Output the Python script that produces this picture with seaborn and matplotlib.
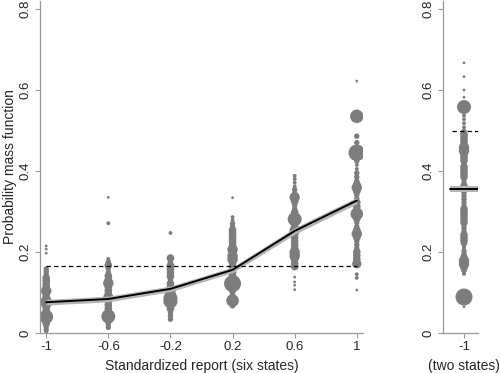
import numpy as np
import pandas as pd
import matplotlib
matplotlib.use("Agg")
import matplotlib.pyplot as plt
import seaborn as sns

# ---------------- data ----------------
six_states = [-1, -0.6, -0.2, 0.2, 0.6, 1]
six_labels = ["-1", "-0.6", "-0.2", "0.2", "0.6", "1"]

y_m10 = [0.215, 0.207, 0.197, 0.158, 0.151, 0.144, 0.136, 0.128, 0.120, 0.112, 0.104, 0.096,
         0.088, 0.080, 0.072, 0.064, 0.056, 0.048, 0.040, 0.032, 0.024, 0.016, 0.008, 0.003]
w_m10 = [1, 1, 1, 4, 4, 4, 8, 8, 8, 8, 15, 8, 8, 15, 15, 8, 8, 8, 27, 8, 8, 4, 4, 2]

y_m06 = [0.335, 0.271, 0.183, 0.175, 0.167, 0.159, 0.150, 0.141, 0.132, 0.123, 0.114, 0.105,
         0.096, 0.087, 0.078, 0.069, 0.060, 0.051, 0.041, 0.031, 0.022, 0.014]
w_m06 = [1, 2, 2, 4, 8, 4, 4, 8, 8, 15, 8, 8, 8, 15, 8, 8, 8, 8, 27, 8, 4, 4]

y_m02 = [0.247, 0.185, 0.176, 0.167, 0.158, 0.149, 0.140, 0.131, 0.122, 0.113, 0.104, 0.095,
         0.086, 0.078, 0.069, 0.060, 0.051, 0.043, 0.034]
w_m02 = [2, 8, 4, 8, 8, 8, 8, 4, 8, 8, 15, 15, 27, 27, 8, 8, 4, 4, 4]

y_p02 = [0.334, 0.286, 0.278, 0.270, 0.262, 0.254, 0.246, 0.238, 0.230, 0.222, 0.214, 0.206,
         0.198, 0.190, 0.182, 0.174, 0.166, 0.158, 0.150, 0.141, 0.122, 0.106, 0.095, 0.080, 0.067]
w_p02 = [1, 2, 2, 4, 4, 8, 8, 8, 8, 8, 8, 15, 8, 15, 15, 8, 8, 8, 8, 8, 40, 8, 4, 22, 4]

y_p06 = [0.388, 0.380, 0.371, 0.362, 0.354, 0.345, 0.335, 0.325, 0.316, 0.307, 0.298, 0.289,
         0.281, 0.271, 0.262, 0.253, 0.244, 0.235, 0.226, 0.217, 0.208, 0.199, 0.190, 0.181,
         0.172, 0.164, 0.138, 0.126, 0.118, 0.107]
w_p06 = [2, 2, 2, 2, 4, 4, 15, 8, 4, 4, 8, 8, 27, 8, 8, 15, 8, 8, 8, 8, 8, 15, 15, 8, 8, 8,
         1, 1, 1, 1]

y_p10 = [0.622, 0.535, 0.486, 0.470, 0.445, 0.425, 0.415, 0.405, 0.395, 0.385, 0.375, 0.367,
         0.359, 0.350, 0.341, 0.332, 0.322, 0.312, 0.303, 0.294, 0.283, 0.273, 0.263, 0.254,
         0.245, 0.236, 0.227, 0.218, 0.209, 0.200, 0.191, 0.182, 0.171, 0.145, 0.136, 0.106]
w_p10 = [1, 25, 4, 4, 38, 4, 2, 2, 4, 4, 4, 8, 15, 8, 4, 4, 8, 8, 8, 22, 8, 4, 4, 8, 15, 8,
         4, 4, 4, 8, 8, 8, 12, 2, 2, 1]

fit_six = [0.076, 0.084, 0.109, 0.156, 0.252, 0.327]
fit_six_lo = [0.069, 0.077, 0.102, 0.149, 0.244, 0.319]
fit_six_hi = [0.083, 0.091, 0.116, 0.163, 0.260, 0.335]
uniform_six = 1 / 6

two_state = [-1]
two_labels = ["-1"]
y_two = [0.667, 0.633, 0.600, 0.582, 0.558, 0.537, 0.528, 0.518, 0.508, 0.498, 0.490, 0.482,
         0.474, 0.466, 0.458, 0.450, 0.442, 0.434, 0.426, 0.418, 0.410, 0.402, 0.394, 0.386,
         0.378, 0.370, 0.362, 0.354, 0.346, 0.338, 0.330, 0.322, 0.314, 0.306, 0.298, 0.290,
         0.282, 0.274, 0.266, 0.258, 0.250, 0.242, 0.234, 0.226, 0.218, 0.210, 0.202, 0.194,
         0.186, 0.178, 0.170, 0.162, 0.154, 0.146, 0.089, 0.074, 0.065]
w_two = [1, 1, 1, 1, 27, 2, 2, 2, 2, 4, 8, 8, 8, 8, 15, 15, 8, 8, 8, 4, 8, 8, 8, 8, 4, 4, 8,
         8, 4, 4, 4, 4, 4, 8, 8, 8, 8, 8, 4, 4, 4, 8, 8, 8, 4, 2, 4, 4, 8, 15, 15, 8, 4, 2,
         40, 2, 1]
fit_two = 0.355
fit_two_halfwidth = 0.008
uniform_two = 0.5
yticks = [0, 0.2, 0.4, 0.6, 0.8]
ytick_labels = ["0", "0.2", "0.4", "0.6", "0.8"]

# ---------------- frames ----------------
cols = [y_m10, y_m06, y_m02, y_p02, y_p06, y_p10]
wcols = [w_m10, w_m06, w_m02, w_p02, w_p06, w_p10]
df_six = pd.concat([pd.DataFrame({"x": xv, "y": yv, "w": wv})
                    for xv, yv, wv in zip(six_states, cols, wcols)], ignore_index=True)
df_two = pd.DataFrame({"x": two_state[0], "y": y_two, "w": w_two})
df_fit = pd.DataFrame({"x": six_states, "fit": fit_six, "lo": fit_six_lo, "hi": fit_six_hi})

# ---------------- style ----------------
sns.set_style("white")
plt.rcParams["font.family"] = ["Liberation Sans", "DejaVu Sans"]
FS = 9.5
PT = "#7d7d7d"
AX = "#999999"

fig = plt.figure(figsize=(5, 3.73), dpi=100)
H = 373.0
W = 500.0
bot = 1 - 333 / H
top_px = 333 - 0.8 * 405 - 8   # small headroom above the 0.8 tick
ax_h = (333 - top_px) / H
ax1 = fig.add_axes([40 / W, bot, 323 / W, ax_h])
ax2 = fig.add_axes([443 / W, bot, 35 / W, ax_h])
ytop = (333 - top_px) / 405

size_kw = dict(size="w", sizes=(4, 150), size_norm=(1, 40), legend=False,
               color=PT, linewidth=0, alpha=1)

sns.scatterplot(data=df_six, x="x", y="y", ax=ax1, zorder=2, **size_kw)
ax1.fill_between(df_fit["x"], df_fit["lo"], df_fit["hi"], color="#b5b5b5", lw=0, zorder=3)
sns.lineplot(data=df_fit, x="x", y="fit", ax=ax1, color="black", lw=1.4, zorder=4)
ax1.plot([six_states[0], six_states[-1]], [uniform_six, uniform_six], color="black",
         lw=0.9, ls=(0, (3.5, 2.5)), zorder=5)

sns.scatterplot(data=df_two, x="x", y="y", ax=ax2, zorder=2, **size_kw)
ax2.fill_between([-1.4, -0.6], fit_two - fit_two_halfwidth, fit_two + fit_two_halfwidth,
                 color="#b5b5b5", lw=0, zorder=3)
ax2.plot([-1.4, -0.6], [fit_two, fit_two], color="black", lw=1.4, zorder=4)
ax2.plot([-1.35, -0.6], [uniform_two, uniform_two], color="black", lw=0.9,
         ls=(0, (3.5, 2.5)), zorder=5)

for ax in (ax1, ax2):
    ax.set_ylim(0, ytop)
    ax.set_yticks(yticks)
    ax.set_yticklabels(ytick_labels, rotation=90, va="center", fontsize=FS)
    for s in ("top", "right"):
        ax.spines[s].set_visible(False)
    for s in ("left", "bottom"):
        ax.spines[s].set_color(AX)
        ax.spines[s].set_linewidth(0.9)
    ax.tick_params(axis="both", direction="out", length=3.5, width=0.8, color=AX,
                   labelsize=FS, pad=2.5, left=True, bottom=True)
    ax.set_facecolor("white")

ax1.set_xlim(-1.04, 1.04)
ax1.set_xticks(six_states)
ax1.set_xticklabels(six_labels)
ax1.set_xlabel("Standardized report (six states)", fontsize=FS + 0.5)
ax1.xaxis.set_label_coords(0.5, -0.077)
ax1.set_ylabel("Probability mass function", fontsize=FS + 0.5)
ax1.yaxis.set_label_coords(-0.072, 0.5)

ax2.set_xlim(-1.6, -0.6)
ax2.set_xticks(two_state)
ax2.set_xticklabels(two_labels)
ax2.set_xlabel("(two states)", fontsize=FS + 0.5)
ax2.xaxis.set_label_coords(0.6, -0.077)
ax2.set_ylabel("")

fig.savefig("out.png", dpi=100, facecolor="white")
